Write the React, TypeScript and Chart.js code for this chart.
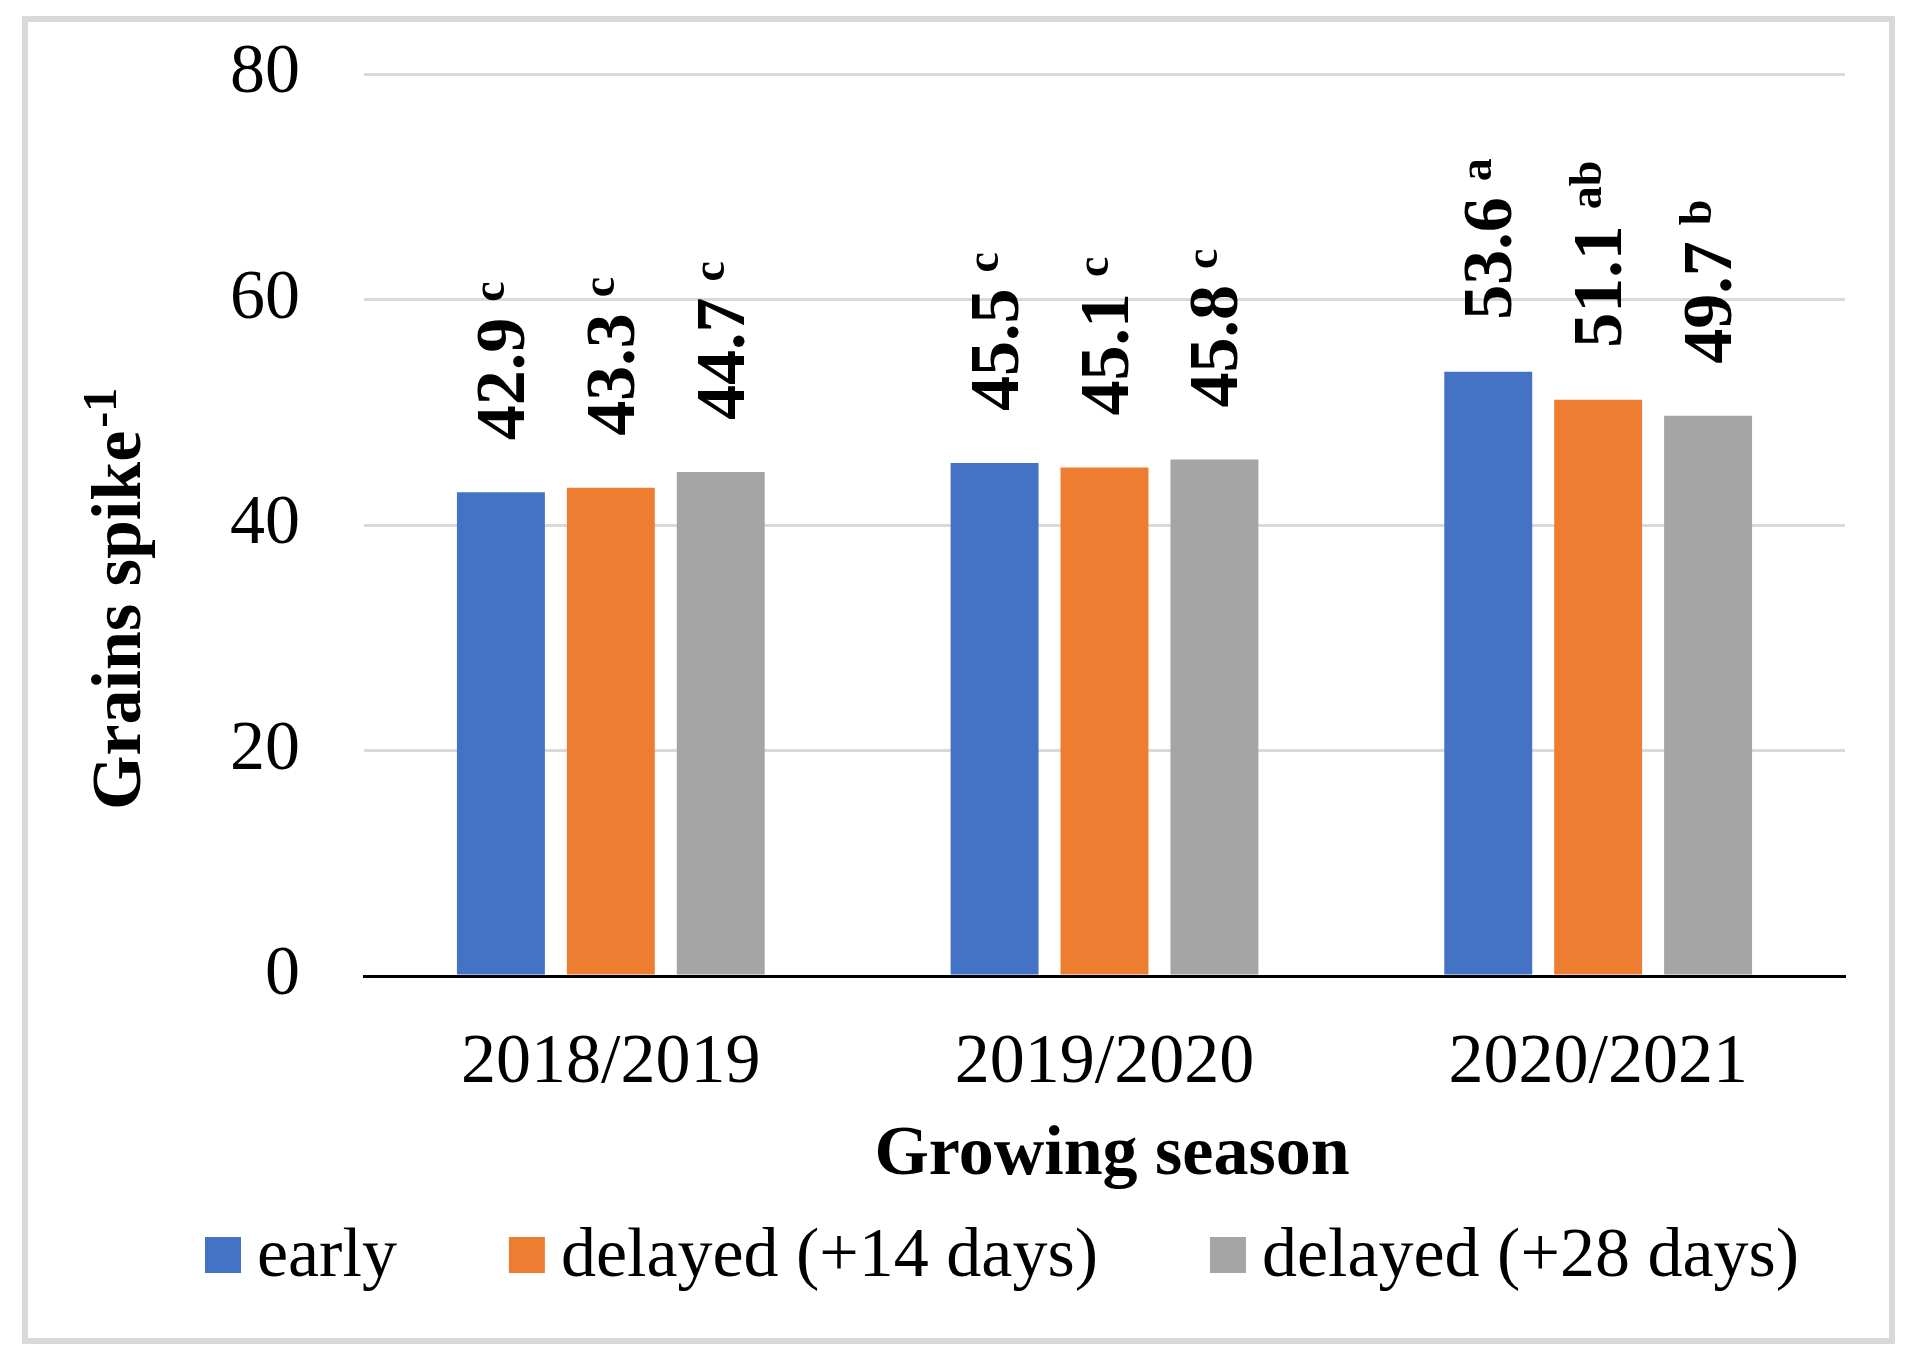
import React, { useEffect, useRef } from "react";
import { Chart, registerables } from "chart.js";

Chart.register(...registerables);

// ---- data ----
const categories = ["2018/2019", "2019/2020", "2020/2021"];
const seriesNames = ["early", "delayed (+14 days)", "delayed (+28 days)"];
const earlyValues = [42.9, 45.5, 53.6];
const delayed14Values = [43.3, 45.1, 51.1];
const delayed28Values = [44.7, 45.8, 49.7];
const earlyLetters = ["c", "c", "a"];
const delayed14Letters = ["c", "c", "ab"];
const delayed28Letters = ["c", "c", "b"];
const yTicks = [0, 20, 40, 60, 80];
const seriesColors = ["#4472C4", "#ED7D31", "#A5A5A5"];
const yTitleMain = "Grains spike";
const yTitleSup = "-1";
const xTitle = "Growing season";

// ---- layout / style ----
const W = 1917;
const H = 1367;
const FONT = "'Liberation Serif', 'Times New Roman', serif";
const PLOT_LEFT = 364;
const PLOT_RIGHT = 1845;
const PAD_TOP = 74;
const PLOT_BOTTOM = 976;
const X_AXIS_H = 150;

const decorPlugin = {
  id: "decor",
  beforeDraw(chart: any) {
    const ctx = chart.ctx;
    ctx.save();
    ctx.fillStyle = "#ffffff";
    ctx.fillRect(0, 0, W, H);
    ctx.strokeStyle = "#d9d9d9";
    ctx.lineWidth = 6;
    ctx.strokeRect(25, 19, 1867, 1322);
    ctx.restore();
  },
  afterDatasetsDraw(chart: any) {
    const ctx = chart.ctx;
    chart.data.datasets.forEach((ds: any, i: number) => {
      const meta = chart.getDatasetMeta(i);
      meta.data.forEach((bar: any, j: number) => {
        const { x, y } = bar.getProps(["x", "y"], true);
        const main = Number(ds.data[j]).toFixed(1);
        const capH = 46;
        ctx.save();
        ctx.translate(x, y - 52);
        ctx.rotate(-Math.PI / 2);
        ctx.fillStyle = "#000";
        ctx.textAlign = "left";
        ctx.textBaseline = "alphabetic";
        ctx.font = `bold 70px ${FONT}`;
        ctx.fillText(main, 0, capH / 2);
        const w = ctx.measureText(main).width;
        ctx.font = `bold 46px ${FONT}`;
        ctx.fillText(ds.letters[j], w + 16, capH / 2 - 20);
        ctx.restore();
      });
    });
  },
  afterDraw(chart: any) {
    const ctx = chart.ctx;
    ctx.save();
    ctx.fillStyle = "#000";
    // y title
    ctx.save();
    ctx.translate(140, 810);
    ctx.rotate(-Math.PI / 2);
    ctx.textAlign = "left";
    ctx.textBaseline = "alphabetic";
    ctx.font = `bold 70px ${FONT}`;
    ctx.fillText(yTitleMain, 0, 0);
    const yw = ctx.measureText(yTitleMain).width;
    ctx.font = `bold 48px ${FONT}`;
    ctx.fillText(yTitleSup, yw + 3, -24);
    ctx.restore();
    // x title
    ctx.textAlign = "center";
    ctx.textBaseline = "alphabetic";
    ctx.font = `bold 70px ${FONT}`;
    ctx.fillText(xTitle, 1112, 1174);
    // legend
    ctx.font = `70px ${FONT}`;
    ctx.textAlign = "left";
    const box = 36;
    const gapBT = 16;
    const gapItem = 112;
    const names = chart.data.datasets.map((d: any) => d.label);
    const widths = names.map((n: string) => ctx.measureText(n).width);
    const total =
      widths.reduce((a: number, w: number) => a + box + gapBT + w, 0) +
      gapItem * (names.length - 1);
    let lx = 1002 - total / 2;
    names.forEach((n: string, i: number) => {
      ctx.fillStyle = chart.data.datasets[i].backgroundColor;
      ctx.fillRect(lx, 1237, box, box);
      ctx.fillStyle = "#000";
      ctx.fillText(n, lx + box + gapBT, 1276);
      lx += box + gapBT + widths[i] + gapItem;
    });
    ctx.restore();
  },
};

export default function App() {
  const canvasRef = useRef<HTMLCanvasElement | null>(null);

  useEffect(() => {
    const canvas = canvasRef.current;
    if (!canvas) return;
    const valueSets = [earlyValues, delayed14Values, delayed28Values];
    const letterSets = [earlyLetters, delayed14Letters, delayed28Letters];
    const chart = new Chart(canvas, {
      type: "bar",
      data: {
        labels: categories,
        datasets: seriesNames.map((name, i) => ({
          label: name,
          data: valueSets[i],
          letters: letterSets[i],
          backgroundColor: seriesColors[i],
          borderWidth: 0,
          categoryPercentage: 0.668,
          barPercentage: 0.8,
        })) as any,
      },
      options: {
        responsive: false,
        animation: false,
        devicePixelRatio: 1,
        layout: {
          padding: {
            left: 0,
            top: PAD_TOP,
            right: W - PLOT_RIGHT,
            bottom: H - PLOT_BOTTOM - X_AXIS_H,
          },
        },
        plugins: {
          legend: { display: false },
          tooltip: { enabled: false },
        },
        scales: {
          x: {
            grid: { display: false, drawTicks: false },
            border: { display: true, color: "#000", width: 3 },
            ticks: {
              font: { family: FONT, size: 70 },
              color: "#000",
              padding: 46,
              maxRotation: 0,
              autoSkip: false,
            },
            afterFit: (s: any) => {
              s.height = X_AXIS_H;
              s.paddingLeft = 0;
              s.paddingRight = 0;
            },
          },
          y: {
            min: 0,
            max: 80,
            afterBuildTicks: (s: any) => {
              s.ticks = yTicks.map((v) => ({ value: v }));
            },
            ticks: {
              font: { family: FONT, size: 70 },
              color: "#000",
              padding: 64,
            },
            grid: {
              color: (c: any) =>
                c.tick && c.tick.value === 0 ? "rgba(0,0,0,0)" : "#d9d9d9",
              lineWidth: 3,
              drawTicks: false,
            },
            border: { display: false },
            afterFit: (s: any) => {
              s.width = PLOT_LEFT;
              s.paddingTop = 0;
              s.paddingBottom = 0;
            },
          },
        },
      } as any,
      plugins: [decorPlugin],
    });
    return () => chart.destroy();
  }, []);

  return (
    <div
      style={{
        position: "absolute",
        left: 0,
        top: 0,
        width: W,
        height: H,
        background: "#fff",
      }}
    >
      <canvas
        ref={canvasRef}
        width={W}
        height={H}
        style={{ width: W, height: H, display: "block" }}
      />
    </div>
  );
}
